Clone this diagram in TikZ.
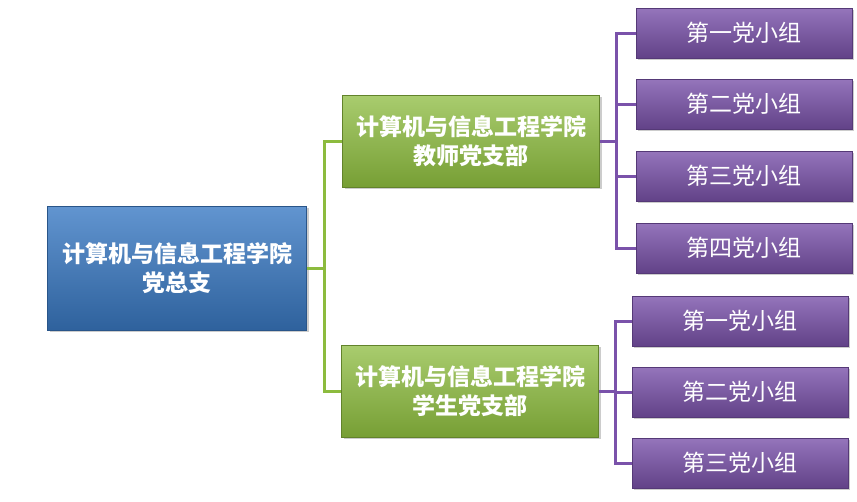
\documentclass[tikz,border=0pt]{standalone}
\usepackage{fontspec}
\newfontfamily\cjk{Noto Sans CJK SC}
\usetikzlibrary{shadows}
\definecolor{rootblue}{HTML}{3A7AC4}
\definecolor{branchgreen}{HTML}{8CBB3E}
\definecolor{grouppurple}{HTML}{7A52AA}

\begin{document}
\begin{tikzpicture}[x=1pt,y=-1pt,
  box/.style={text=white,align=center,inner sep=2pt,drop shadow={opacity=0.4,shadow xshift=2pt,shadow yshift=-2pt}},
  rootbox/.style={box,draw=rootblue!70!black,top color=rootblue!80!white,bottom color=rootblue!80!black,minimum width=259pt,minimum height=124pt,font=\cjk\bfseries\fontsize{23}{29}\selectfont},
  branchbox/.style={box,draw=branchgreen!70!black,top color=branchgreen!75!white,bottom color=branchgreen!85!black,minimum width=257pt,minimum height=92pt,font=\cjk\bfseries\fontsize{23}{29}\selectfont},
  groupbox/.style={box,draw=grouppurple!70!black,top color=grouppurple!80!white,bottom color=grouppurple!80!black,minimum width=216pt,minimum height=50pt,font=\cjk\fontsize{23}{26}\selectfont},
  greenline/.style={draw=branchgreen,line width=3pt},
  purpleline/.style={draw=grouppurple,line width=3pt}]
  \useasboundingbox (0,0) rectangle (857,501);
  \node[rootbox] (root) at (177,268) {计算机与信息工程学院\\党总支};
  \node[branchbox] (teach) at (471,141) {计算机与信息工程学院\\教师党支部};
  \node[branchbox] (stud) at (470,391) {计算机与信息工程学院\\学生党支部};
  % connectors to the two branches
  \draw[greenline] (root.east) -- ++(18,0) coordinate (rj);
  \draw[greenline] (rj) |- (teach.west);
  \draw[greenline] (rj) |- (stud.west);
  % party groups
  \draw[purpleline] (teach.east) -- ++(17,0) coordinate (tj);
  \foreach \i/\y/\t in {1/33/第一党小组,2/104/第二党小组,3/176/第三党小组,4/248/第四党小组}{
    \draw[purpleline] (tj) |- (744,\y);
    \node[groupbox] (t\i) at (744,\y) {\t};
  }
  \draw[purpleline] (stud.east) -- ++(17,0) coordinate (sj);
  \foreach \i/\y/\t in {1/321/第一党小组,2/392/第二党小组,3/463/第三党小组}{
    \draw[purpleline] (sj) |- (740,\y);
    \node[groupbox] (s\i) at (740,\y) {\t};
  }
\end{tikzpicture}
\end{document}
